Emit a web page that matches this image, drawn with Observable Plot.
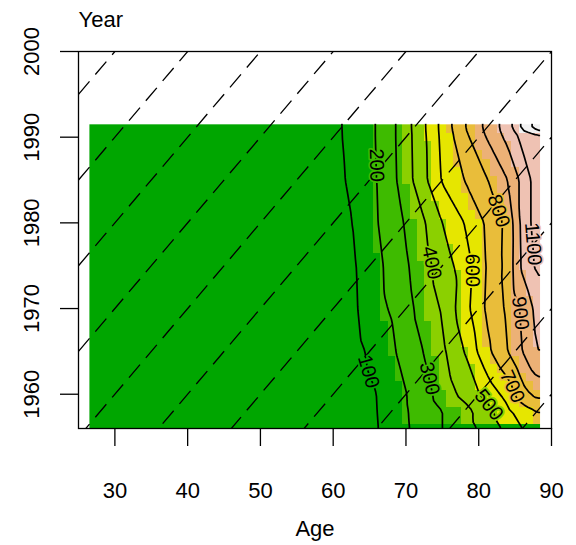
<!DOCTYPE html>
<html>
<head>
<meta charset="utf-8">
<script src="https://cdn.jsdelivr.net/npm/d3@7"></script>
<script src="https://cdn.jsdelivr.net/npm/@observablehq/plot@0.6"></script>
<style>
  html, body { margin: 0; padding: 0; background: white; }
</style>
</head>
<body>
<div id="chart"></div>
<script>
// ---- Data ----
const ages  = [27, 45, 55, 60, 63, 66, 69, 72, 75, 78, 81, 84, 86, 88];
const years = [1956, 1958, 1960, 1965, 1970, 1975, 1980, 1985, 1990, 1991];
const rates1956 = [3,  8, 20, 32,  55,  95, 165, 235, 300, 360, 430, 530,  600,  660];
const rates1958 = [3,  8, 21, 34,  58,  98, 168, 240, 300, 360, 460, 580,  650,  700];
const rates1960 = [3,  8, 22, 35,  60, 100, 170, 250, 340, 430, 530, 640,  760,  830];
const rates1965 = [3,  9, 26, 42,  75, 130, 210, 290, 380, 500, 670, 800,  900, 1000];
const rates1970 = [3, 10, 30, 50,  90, 170, 230, 330, 410, 560, 710, 820,  920, 1030];
const rates1975 = [3, 11, 36, 60,  95, 175, 260, 345, 450, 545, 700, 835, 1020, 1120];
const rates1980 = [3, 12, 42, 70, 105, 195, 280, 370, 500, 600, 710, 830, 1030, 1150];
const rates1985 = [3, 12, 45, 75, 120, 200, 310, 450, 610, 700, 790, 900, 1030, 1150];
const rates1990 = [3, 12, 48, 80, 128, 205, 315, 455, 625, 770, 900, 1030, 1130, 1160];
const rates1991 = [3, 12, 48, 80, 130, 205, 315, 460, 630, 790, 920, 1050, 1220, 1340];
const rateRows = [rates1956, rates1958, rates1960, rates1965, rates1970,
                  rates1975, rates1980, rates1985, rates1990, rates1991];

const colorBreaks = [180, 345, 510, 675, 840, 1005, 1170];
const terrainColors = ["#00A600", "#3EBB00", "#8BD000", "#E6E600",
                       "#E9BD3A", "#ECB176", "#EFC2B3", "#F2F2F2"];
const contourLevels = [100, 200, 300, 400, 500, 600, 700, 800, 900, 1000, 1100, 1200, 1300];
const cohorts = [1870, 1880, 1890, 1900, 1910, 1920, 1930, 1940, 1950, 1960, 1970];
const xTicks = [30, 40, 50, 60, 70, 80, 90];
const yTicks = [1960, 1970, 1980, 1990, 2000];
const xDomain = [25, 90];
const yDomain = [1956, 2000];
// contour labels: level and approximate spot where it is written
const labelLevels = [100, 200, 300, 400, 500, 600, 700, 800, 900, 1100];
const labelAges   = [65.4, 66.5, 73.8, 73.4, 81.6, 78.9, 85.3, 82.1, 85.5, 87.4];
const labelYears  = [1962.7, 1986.7, 1961.9, 1975.3, 1958.8, 1974.4, 1961.0, 1981.3, 1969.5, 1977.5];

// ---- Build tables ----
const samples = years.flatMap((year, j) => ages.map((age, i) => ({age, year, rate: rateRows[j][i]})));
const ageLo = d3.min(ages) - 0.5, ageHi = d3.max(ages) + 0.5;
const yearLo = d3.min(years) - 0.5, yearHi = d3.max(years) + 0.5;
const nA = ages.length, nY = years.length;
// contour grid: edge values carried out to the grid bounds (the part
// outside the cells is hidden by the white masks below)
const padAges = [ageLo, ...ages, xDomain[1]];
const padYears = [yearLo, ...years, yDomain[1]];
const contourSamples = padYears.flatMap((year, j) => padAges.map((age, i) => ({
  age, year,
  rate: rateRows[Math.max(0, Math.min(nY - 1, j - 1))][Math.max(0, Math.min(nA - 1, i - 1))]
})));
const masks = [
  {a1: ageHi, a2: xDomain[1], y1: yDomain[0], y2: yDomain[1]},
  {a1: xDomain[0], a2: xDomain[1], y1: yearHi, y2: yDomain[1]}
];
const FONT = "'Liberation Sans', Arial, Helvetica, sans-serif";

function makePlot(labels) {
  return Plot.plot({
    width: 576, height: 545,
    marginLeft: 78, marginRight: 25, marginTop: 51, marginBottom: 117,
    style: {fontFamily: FONT, fontSize: "22px", background: "white", color: "black"},
    x: {domain: xDomain, axis: null},
    y: {domain: yDomain, axis: null},
    color: {type: "threshold", domain: colorBreaks, range: terrainColors},
    marks: [
      Plot.raster(samples, {
        x: "age", y: "year", fill: "rate",
        x1: ageLo, x2: ageHi, y1: yearLo, y2: yearHi,
        width: ageHi - ageLo, height: yearHi - yearLo,
        interpolate: "barycentric", imageRendering: "pixelated", clip: true
      }),
      ...contourLevels.map(level => Plot.contour(contourSamples, {
        x: "age", y: "year", value: "rate",
        x1: ageLo, x2: xDomain[1], y1: yearLo, y2: yDomain[1],
        width: (xDomain[1] - ageLo) * 2, height: (yDomain[1] - yearLo) * 2,
        interpolate: "barycentric", thresholds: [level],
        fill: "none", stroke: "black", strokeWidth: 1.7, clip: true
      })),
      Plot.rect(masks, {x1: "a1", x2: "a2", y1: "y1", y2: "y2", fill: "white"}),
      Plot.link(cohorts, {
        x1: () => xDomain[0], x2: () => xDomain[1],
        y1: c => c + xDomain[0], y2: c => c + xDomain[1],
        stroke: "black", strokeWidth: 1.3, strokeDasharray: "17,9", clip: true
      }),
      Plot.text(labels, {
        x: "age", y: "year", rotate: "rotate", text: d => String(d.level),
        fill: "black", stroke: "level", strokeWidth: 3.5,
        fontSize: 20, textAnchor: "middle", lineAnchor: "middle"
      }),
      Plot.axisX({ticks: xTicks, tickSize: 18, tickPadding: 36, fontSize: 22,
                  strokeWidth: 1.3, label: null, tickFormat: d => String(d)}),
      Plot.axisY({ticks: yTicks, tickSize: 18, strokeWidth: 1.3, label: null,
                  tickFormat: () => ""}),
      Plot.text(yTicks, {y: d => d, frameAnchor: "left", text: d => String(d),
                         rotate: -90, dx: -47, fontSize: 22,
                         textAnchor: "middle", lineAnchor: "middle"}),
      Plot.text(["Year"], {frameAnchor: "top-left", textAnchor: "start",
                           lineAnchor: "bottom", dy: -25, fontSize: 22}),
      Plot.text(["Age"], {frameAnchor: "bottom", textAnchor: "middle",
                          lineAnchor: "bottom", dy: 107, fontSize: 22}),
      Plot.frame({stroke: "black", strokeWidth: 1.3})
    ]
  });
}

const holder = document.getElementById("chart");
const pre = makePlot([]);
holder.appendChild(pre);
const xs = pre.scale("x"), ys = pre.scale("y");
const groups = pre.querySelectorAll('g[aria-label="contour"]');
const labels = [];
labelLevels.forEach((level, k) => {
  const g = groups[contourLevels.indexOf(level)];
  if (!g) return;
  const path = g.querySelector("path");
  if (!path) return;
  const L = path.getTotalLength();
  if (!L) return;
  const m = path.getCTM();
  const tx = xs.apply(labelAges[k]), ty = ys.apply(labelYears[k]);
  const pt = s => path.getPointAtLength(Math.max(0, Math.min(L, s))).matrixTransform(m);
  const xMax = xs.apply(ageHi) - 2, yMin = ys.apply(yearHi) + 2;
  let best = null;
  for (let s = 0; s <= L; s += 1) {
    const p = pt(s);
    if (p.x > xMax || p.y < yMin) continue;
    const d = 0.3 * (p.x - tx) ** 2 + (p.y - ty) ** 2;
    if (!best || d < best.d) best = {d, s, p};
  }
  if (!best || best.d > 3000) return;
  const p1 = pt(best.s - 6), p2 = pt(best.s + 6);
  let ang = Math.atan2(p2.y - p1.y, p2.x - p1.x) * 180 / Math.PI;
  if (ang > 90) ang -= 180;
  if (ang <= -90) ang += 180;
  labels.push({level, age: xs.invert(best.p.x), year: ys.invert(best.p.y), rotate: ang});
});
const finalPlot = makePlot(labels);
holder.replaceChild(finalPlot, pre);
</script>
</body>
</html>
